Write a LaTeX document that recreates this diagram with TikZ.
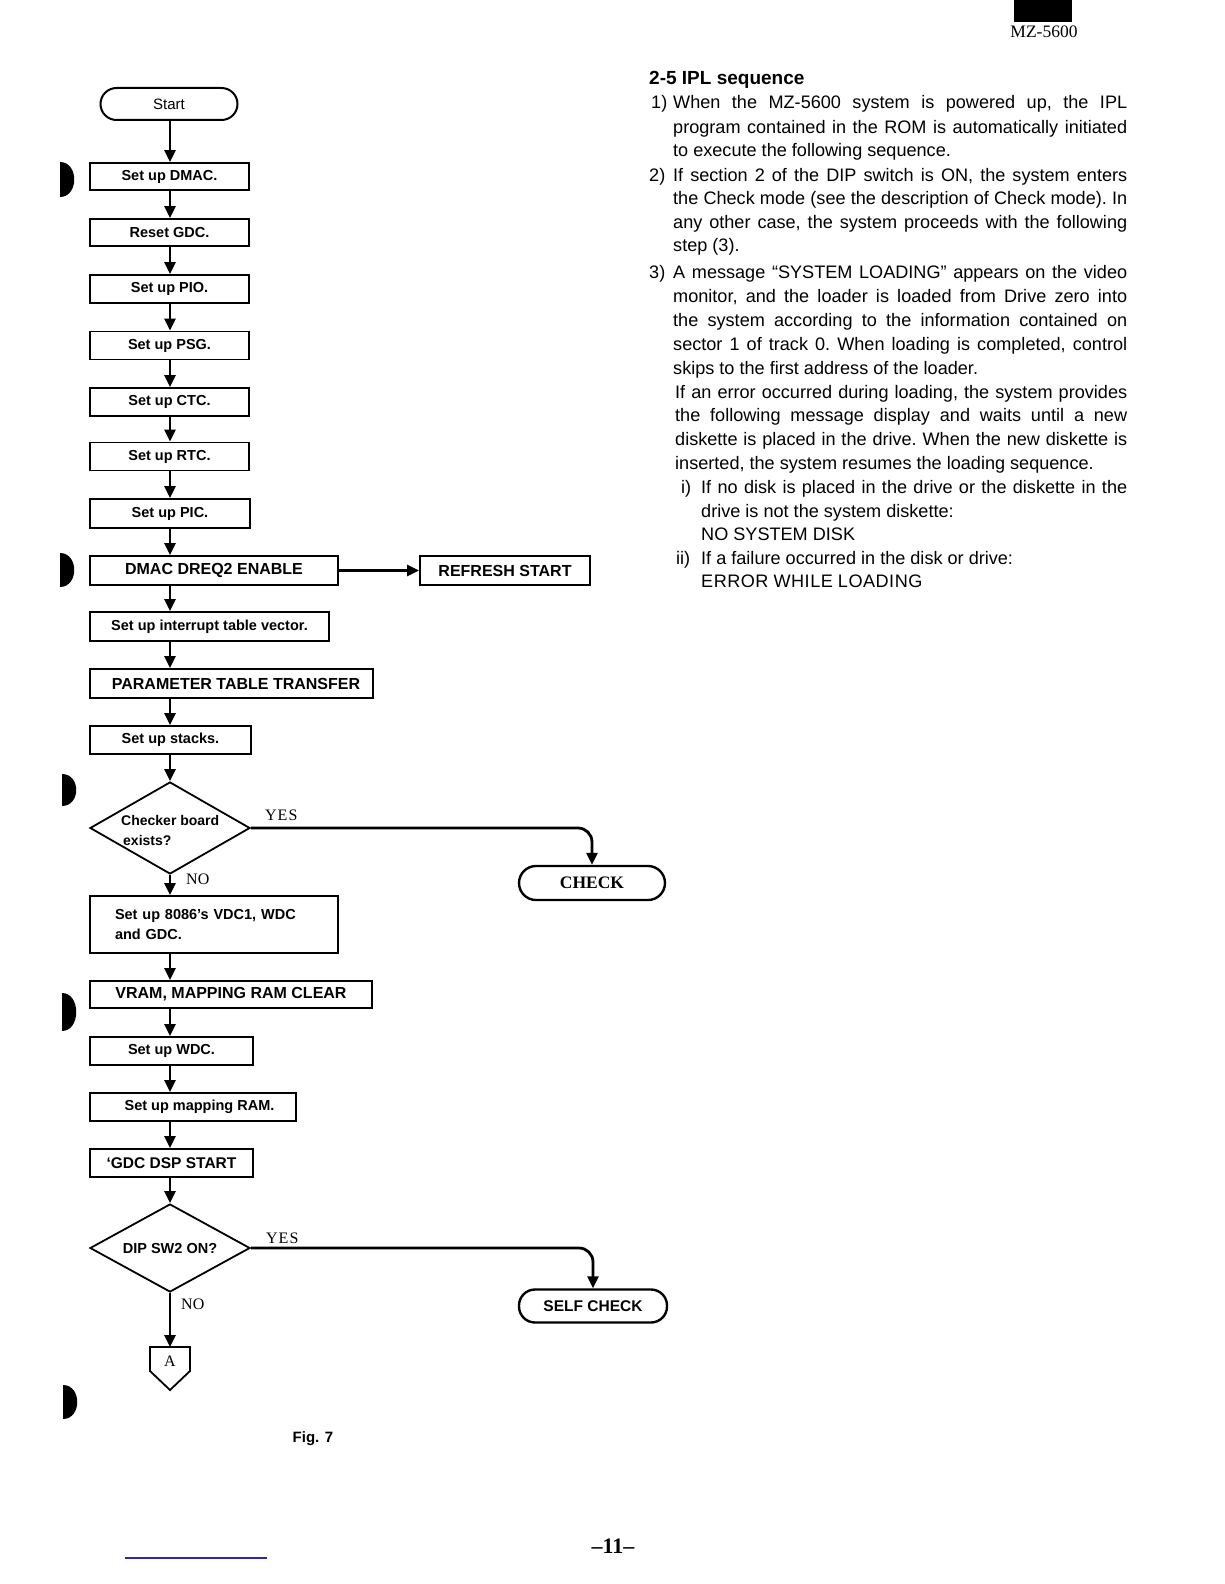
\documentclass[tikz,border=0pt]{standalone}
\usepackage{fontspec}
\setmainfont{Liberation Sans}
\newfontfamily\serifff{Liberation Serif}
\usetikzlibrary{arrows.meta,shapes.geometric}
\newcommand\fs[1]{\fontsize{#1}{#1}\selectfont}
\definecolor{rulecol}{RGB}{40,40,170}
\begin{document}
\begin{tikzpicture}[x=1pt,y=-1pt,
  box/.style={draw, line width=1.8pt, inner sep=0pt, font=\bfseries\fs{14.5}},
  capbox/.style={box, font=\bfseries\fs{16}},
  term/.style={draw, line width=2pt, inner sep=0pt},
  arr/.style={line width=2.8pt, -{Triangle[length=12pt,width=11pt]}},
  dia/.style={diamond, draw, line width=1.8pt, inner sep=0pt, aspect=1.74},
  lbl/.style={font=\serifff\fs{16}, inner sep=0pt},
  body/.style={font=\frenchspacing\fs{18.1}, inner sep=0pt, anchor=base west},
  binder/.style={fill=black}]
\useasboundingbox (0,0) rectangle (1224,1584);

% page decorations
\fill[binder] (1014,0) rectangle (1072,22);
\node[font=\serifff\fs{17.5}, inner sep=0pt] (model) at (1044,32) {MZ-5600};
\foreach \x/\ya/\yb in {60/162/197, 60/553/587, 62/774/806, 62/993/1031, 63/1385/1419}
  \fill[binder] (\x,\ya) .. controls (\x+19,\ya) and (\x+19,\yb) .. (\x,\yb) -- cycle;
\draw[line width=1.5pt, rulecol] (125,1558) -- (267,1558);
\node[font=\serifff\bfseries\fs{22}, inner sep=0pt] (page) at (613,1546) {–11–};
\node[font=\bfseries\fs{15}, inner sep=0pt] (fig) at (313,1439) {Fig. 7};

% flowchart
\coordinate (ax) at (170,0);
\node[term, rounded corners=16pt, minimum width=137pt, minimum height=32pt, font=\fs{15}] (start) at (169,104) {Start};
\node[box, minimum width=159pt, minimum height=27pt] (dmac) at (169.5,176.5) {Set up DMAC.};
\node[box, minimum width=159pt, minimum height=27pt] (gdc) at (169.5,232.5) {Reset GDC.};
\node[box, minimum width=159pt, minimum height=28pt] (pio) at (169.5,289) {Set up PIO.};
\node[box, minimum width=159pt, minimum height=28pt] (psg) at (169.5,345.5) {Set up PSG.};
\node[box, minimum width=159pt, minimum height=28pt] (ctc) at (169.5,402) {Set up CTC.};
\node[box, minimum width=159pt, minimum height=28pt] (rtc) at (169.5,456.5) {Set up RTC.};
\node[box, minimum width=160pt, minimum height=29pt] (pic) at (170,513.5) {Set up PIC.};
\node[capbox, minimum width=248pt, minimum height=29pt] (dreq) at (214,570.5) {DMAC DREQ2 ENABLE\hspace{34pt}};
\node[capbox, minimum width=170pt, minimum height=29pt] (refresh) at (505,570.5) {REFRESH START};
\node[box, minimum width=239pt, minimum height=29pt] (itv) at (209.5,626.5) {Set up interrupt table vector.};
\node[capbox, minimum width=283pt, minimum height=29pt] (ptt) at (231.5,683.5) {\hspace{9pt}PARAMETER TABLE TRANSFER};
\node[box, minimum width=161pt, minimum height=28pt] (stacks) at (170.5,740) {Set up stacks.\hspace{10pt}};
\node[dia, minimum width=160pt, minimum height=92pt] (d1) at (170,828) {};
\node[font=\bfseries\fs{14}, inner sep=0pt, anchor=west, align=left] (d1t) at (121,830) {Checker board\\[6pt]\hspace*{2pt}exists?};
\node[term, rounded corners=17pt, line width=2.4pt, minimum width=146pt, minimum height=34pt, font=\serifff\bfseries\fs{17.5}] (check) at (592,883) {CHECK};
\node[box, minimum width=248pt, minimum height=57pt, text width=198pt, inner xsep=25pt, align=left, font=\bfseries\fs{14.5}] (b8086) at (214,924.5) {Set up 8086’s VDC1, WDC\\[6pt]and GDC.};
\node[capbox, minimum width=282pt, minimum height=27pt] (vram) at (231,994.5) {VRAM, MAPPING RAM CLEAR};
\node[box, minimum width=163pt, minimum height=28pt] (wdc) at (171.5,1051) {Set up WDC.};
\node[box, minimum width=206pt, minimum height=28pt] (map) at (193,1107) {\hspace{13pt}Set up mapping RAM.};
\node[capbox, font=\bfseries\fs{15.5}, minimum width=163pt, minimum height=28pt] (gdcdsp) at (171.5,1163) {‘GDC DSP START\hspace{11pt}};
\node[dia, minimum width=160pt, minimum height=88pt] (d2) at (170,1248) {};
\node[font=\bfseries\fs{14.5}, inner sep=0pt] (d2t) at (170,1248) {DIP SW2 ON?};
\node[term, rounded corners=16pt, line width=2.4pt, minimum width=148pt, minimum height=33pt, font=\bfseries\fs{15.5}] (self) at (593,1306) {SELF CHECK};
\coordinate (Atop) at (170,1347);
\draw[line width=1.8pt] (150,1347) -- (190,1347) -- (190,1371) -- (170,1390) -- (150,1371) -- cycle;
\node[lbl] (A) at (170,1361) {A};

\node[lbl, anchor=west] (yes1) at (265,815) {Y\kern1pt E\kern1pt S};
\node[lbl, anchor=west] (no1) at (186,879) {NO};
\node[lbl, anchor=west] (yes2) at (266,1238) {Y\kern1pt E\kern1pt S};
\node[lbl, anchor=west] (no2) at (181,1304) {NO};

% connectors
\draw[arr] (start.south -| ax) -- (dmac.north -| ax);
\draw[arr] (dmac.south -| ax) -- (gdc.north -| ax);
\draw[arr] (gdc.south -| ax) -- (pio.north -| ax);
\draw[arr] (pio.south -| ax) -- (psg.north -| ax);
\draw[arr] (psg.south -| ax) -- (ctc.north -| ax);
\draw[arr] (ctc.south -| ax) -- (rtc.north -| ax);
\draw[arr] (rtc.south -| ax) -- (pic.north -| ax);
\draw[arr] (pic.south -| ax) -- (dreq.north -| ax);
\draw[arr] (dreq.east) -- (refresh.west);
\draw[arr] (dreq.south -| ax) -- (itv.north -| ax);
\draw[arr] (itv.south -| ax) -- (ptt.north -| ax);
\draw[arr] (ptt.south -| ax) -- (stacks.north -| ax);
\draw[arr] (stacks.south -| ax) -- (d1.north);
\draw[arr, rounded corners=14pt] (d1.east) -- (d1.east -| check.north) -- (check.north);
\draw[arr] (d1.south) -- (b8086.north -| ax);
\draw[arr] (b8086.south -| ax) -- (vram.north -| ax);
\draw[arr] (vram.south -| ax) -- (wdc.north -| ax);
\draw[arr] (wdc.south -| ax) -- (map.north -| ax);
\draw[arr] (map.south -| ax) -- (gdcdsp.north -| ax);
\draw[arr] (gdcdsp.south -| ax) -- (d2.north);
\draw[arr, rounded corners=14pt] (d2.east) -- (d2.east -| self.north) -- (self.north);
\draw[arr] (d2.south) -- (Atop);

% text column
\node[anchor=base west, font=\bfseries\fs{19}, inner sep=0pt] (head) at (649,85) {2-5 IPL sequence};
\node[body] (n1) at (651,109) {1)};
\node[body] (n2) at (649,181) {2)};
\node[body] (n3) at (649,278) {3)};
\node[body] (ni) at (681,493) {i)};
\node[body] (nii) at (676,564) {ii)};
\node[body] (l1) at (673,109) {\makebox[454pt][s]{When the MZ-5600 system is powered up, the IPL}};
\node[body] (l2) at (673,133) {\makebox[454pt][s]{program contained in the ROM is automatically initiated}};
\node[body] (l3) at (673,157) {to execute the following sequence.};
\node[body] (l4) at (673,181) {\makebox[454pt][s]{If section 2 of the DIP switch is ON, the system enters}};
\node[body] (l5) at (673,204) {\makebox[454pt][s]{the Check mode (see the description of Check mode). In}};
\node[body] (l6) at (673,228) {\makebox[454pt][s]{any other case, the system proceeds with the following}};
\node[body] (l7) at (673,251) {step (3).};
\node[body] (l8) at (673,278) {\makebox[454pt][s]{A message “SYSTEM LOADING” appears on the video}};
\node[body] (l9) at (673,302) {\makebox[454pt][s]{monitor, and the loader is loaded from Drive zero into}};
\node[body] (l10) at (673,326) {\makebox[454pt][s]{the system according to the information contained on}};
\node[body] (l11) at (673,350) {\makebox[454pt][s]{sector 1 of track 0. When loading is completed, control}};
\node[body] (l12) at (673,374) {skips to the first address of the loader.};
\node[body] (l13) at (675,398) {\makebox[452pt][s]{If an error occurred during loading, the system provides}};
\node[body] (l14) at (675,421) {\makebox[452pt][s]{the following message display and waits until a new}};
\node[body] (l15) at (675,445) {\makebox[452pt][s]{diskette is placed in the drive. When the new diskette is}};
\node[body] (l16) at (675,469) {inserted, the system resumes the loading sequence.};
\node[body] (l17) at (701,493) {\makebox[426pt][s]{If no disk is placed in the drive or the diskette in the}};
\node[body] (l18) at (701,517) {drive is not the system diskette:};
\node[body] (l19) at (701,540) {NO SYSTEM DISK};
\node[body] (l20) at (701,564) {If a failure occurred in the disk or drive:};
\node[body] (l21) at (701,587) {E\kern0.5pt R\kern0.5pt R\kern0.5pt O\kern0.5pt R W\kern0.5pt H\kern0.5pt I\kern0.5pt L\kern0.5pt E L\kern0.5pt O\kern0.5pt A\kern0.5pt D\kern0.5pt I\kern0.5pt N\kern0.5pt G};
\end{tikzpicture}
\end{document}
